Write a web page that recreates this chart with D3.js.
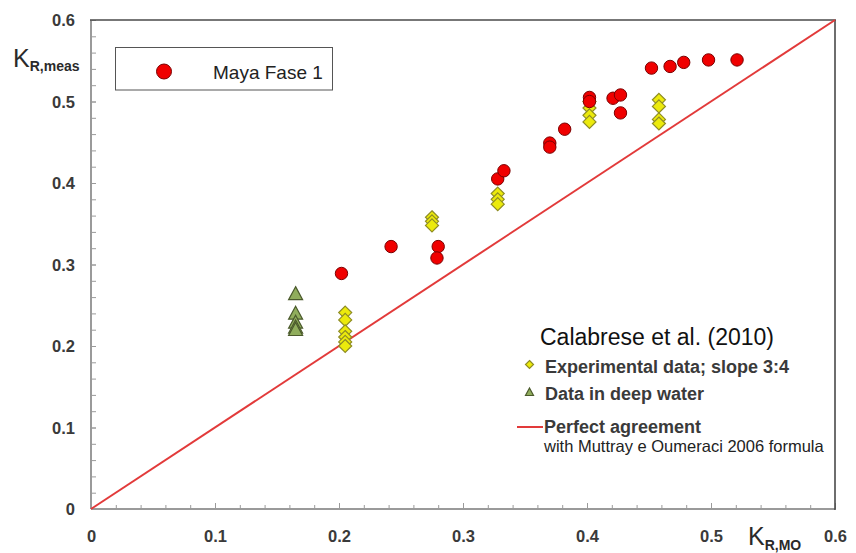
<!DOCTYPE html>
<html>
<head>
<meta charset="utf-8">
<script src="https://cdn.jsdelivr.net/npm/d3@7"></script>
<style>
  html, body { margin: 0; padding: 0; background: #fff; }
  svg { display: block; }
  text { font-family: "Liberation Sans", Arial, sans-serif; }
</style>
</head>
<body>
<svg id="chart" width="856" height="553"></svg>
<script>
// ---- data ----
const mayaX = [0.202, 0.242, 0.280, 0.279, 0.328, 0.333, 0.370, 0.370, 0.382, 0.402, 0.402, 0.421, 0.427, 0.427, 0.452, 0.467, 0.478, 0.498, 0.521];
const mayaY = [0.289, 0.322, 0.322, 0.308, 0.405, 0.415, 0.449, 0.444, 0.466, 0.505, 0.500, 0.504, 0.508, 0.486, 0.541, 0.543, 0.548, 0.551, 0.551];

const expX = [0.205, 0.205, 0.205, 0.205, 0.205, 0.205, 0.275, 0.275, 0.275, 0.328, 0.328, 0.328, 0.402, 0.402, 0.402, 0.402, 0.458, 0.458, 0.458, 0.458];
const expY = [0.241, 0.232, 0.218, 0.211, 0.205, 0.200, 0.358, 0.353, 0.348, 0.387, 0.380, 0.374, 0.500, 0.492, 0.483, 0.475, 0.502, 0.494, 0.478, 0.473];

const deepX = [0.165, 0.165, 0.165, 0.165, 0.165];
const deepY = [0.263, 0.239, 0.228, 0.222, 0.219];

const lineX = [0, 0.6];
const lineY = [0, 0.6];

const majorTicks = [0, 0.1, 0.2, 0.3, 0.4, 0.5, 0.6];
const tickLabels = ["0", "0.1", "0.2", "0.3", "0.4", "0.5", "0.6"];
const minorTicks = [0,0.02,0.04,0.06,0.08,0.1,0.12,0.14,0.16,0.18,0.2,0.22,0.24,0.26,0.28,0.3,0.32,0.34,0.36,0.38,0.4,0.42,0.44,0.46,0.48,0.5,0.52,0.54,0.56,0.58,0.6];

const legendMaya = "Maya Fase 1";
const legendTitle = "Calabrese et al. (2010)";
const legendExp = "Experimental data; slope 3:4";
const legendDeep = "Data in deep water";
const legendLine1 = "Perfect agreement";
const legendLine2 = "with Muttray e Oumeraci 2006 formula";

// ---- chart ----
const svg = d3.select("#chart");
const x = d3.scaleLinear().domain([0, 0.6]).range([91, 835]);
const y = d3.scaleLinear().domain([0, 0.6]).range([509, 20]);

const axisGray = "#9a9a9a";
const labelColor = "#3a3a3a";

const gxMinor = svg.append("g").attr("transform", `translate(0,${y(0)})`)
  .call(d3.axisBottom(x).tickValues(minorTicks).tickSize(-4).tickFormat(""));
const gxMajor = svg.append("g").attr("transform", `translate(0,${y(0)})`)
  .call(d3.axisBottom(x).tickValues(majorTicks).tickSize(-6).tickPadding(22)
    .tickFormat((d, i) => tickLabels[i]));
const gyMinor = svg.append("g").attr("transform", `translate(${x(0)},0)`)
  .call(d3.axisLeft(y).tickValues(minorTicks).tickSize(-5).tickFormat(""));
const gyMajor = svg.append("g").attr("transform", `translate(${x(0)},0)`)
  .call(d3.axisLeft(y).tickValues(majorTicks).tickSize(-5).tickPadding(16)
    .tickFormat((d, i) => tickLabels[i]));

[gxMinor, gxMajor, gyMinor, gyMajor].forEach(g => {
  g.selectAll(".domain").remove();
  g.selectAll(".tick line").attr("stroke", axisGray).attr("stroke-width", 1);
  g.selectAll("text")
    .attr("fill", labelColor)
    .style("font-family", "'Liberation Sans', Arial, sans-serif")
    .style("font-size", "16.5px")
    .style("font-weight", "bold");
});
gxMajor.selectAll("text").attr("dy", "0.32em").attr("y", 28);
gyMajor.selectAll("text").attr("dy", "0.35em");

// axis lines (left/bottom gray), frame (top/right dark)
svg.append("line").attr("x1", x(0)).attr("x2", x(0.6)).attr("y1", y(0)).attr("y2", y(0))
  .attr("stroke", axisGray).attr("stroke-width", 2);
svg.append("line").attr("x1", x(0)).attr("x2", x(0)).attr("y1", y(0)).attr("y2", y(0.6))
  .attr("stroke", axisGray).attr("stroke-width", 2);
svg.append("line").attr("x1", x(0) - 1).attr("x2", x(0.6) + 1).attr("y1", y(0.6)).attr("y2", y(0.6))
  .attr("stroke", "#4a4a4a").attr("stroke-width", 1.6);
svg.append("line").attr("x1", x(0.6)).attr("x2", x(0.6)).attr("y1", y(0.6)).attr("y2", y(0) + 1)
  .attr("stroke", "#4a4a4a").attr("stroke-width", 1.6);

// perfect agreement line
svg.append("line")
  .attr("x1", x(lineX[0])).attr("y1", y(lineY[0]))
  .attr("x2", x(lineX[1])).attr("y2", y(lineY[1]))
  .attr("stroke", "#e23a3a").attr("stroke-width", 2);

const diamond = "M0,-6.5L6.5,0L0,6.5L-6.5,0Z";
const triangle = "M0,-8L7,5L-7,5Z";

svg.append("g").selectAll("path").data(deepX.map((d, i) => [d, deepY[i]])).join("path")
  .attr("d", triangle)
  .attr("transform", d => `translate(${x(d[0])},${y(d[1])})`)
  .attr("fill", "#90ad5c").attr("stroke", "#4b5a2c").attr("stroke-width", 1.2);

svg.append("g").selectAll("path").data(expX.map((d, i) => [d, expY[i]])).join("path")
  .attr("d", diamond)
  .attr("transform", d => `translate(${x(d[0])},${y(d[1])})`)
  .attr("fill", "#ecea0c").attr("stroke", "#8e8c24").attr("stroke-width", 1.2);

svg.append("g").selectAll("circle").data(mayaX.map((d, i) => [d, mayaY[i]])).join("circle")
  .attr("cx", d => x(d[0])).attr("cy", d => y(d[1])).attr("r", 6.2)
  .attr("fill", "#f00000").attr("stroke", "#7a0000").attr("stroke-width", 1);

// axis titles
const yt = svg.append("text").attr("x", 13).attr("y", 67).attr("fill", "#2a2a2a");
yt.append("tspan").text("K").style("font-size", "25px");
yt.append("tspan").text("R,meas").attr("dy", 4).style("font-size", "14px").style("font-weight", "bold");

const xt = svg.append("text").attr("x", 748).attr("y", 545).attr("fill", "#2a2a2a");
xt.append("tspan").text("K").style("font-size", "25px");
xt.append("tspan").text("R,MO").attr("dy", 5).style("font-size", "14px").style("font-weight", "bold");

// Maya legend box
svg.append("rect").attr("x", 115.5).attr("y", 47.5).attr("width", 217).attr("height", 42.5)
  .attr("fill", "#fff").attr("stroke", "#555").attr("stroke-width", 1);
svg.append("circle").attr("cx", 164).attr("cy", 71.5).attr("r", 7.5)
  .attr("fill", "#f00000").attr("stroke", "#7a0000").attr("stroke-width", 1);
svg.append("text").attr("x", 213).attr("y", 78.5).text(legendMaya)
  .style("font-size", "19px").attr("fill", "#222");

// Calabrese legend
svg.append("text").attr("x", 540).attr("y", 345).text(legendTitle)
  .style("font-size", "23px").attr("fill", "#111");
svg.append("path").attr("d", "M0,-4L4,0L0,4L-4,0Z").attr("transform", "translate(529.5,364.5)")
  .attr("fill", "#ecea0c").attr("stroke", "#8e8c24").attr("stroke-width", 1.2);
svg.append("text").attr("x", 545).attr("y", 373).text(legendExp)
  .style("font-size", "18px").style("font-weight", "bold").attr("fill", labelColor);
svg.append("path").attr("d", "M0,-4.5L4,3L-4,3Z").attr("transform", "translate(529.5,392.5)")
  .attr("fill", "#90ad5c").attr("stroke", "#4b5a2c").attr("stroke-width", 1.2);
svg.append("text").attr("x", 545).attr("y", 400).text(legendDeep)
  .style("font-size", "18px").style("font-weight", "bold").attr("fill", labelColor);
svg.append("line").attr("x1", 517).attr("x2", 543).attr("y1", 427).attr("y2", 427)
  .attr("stroke", "#e23a3a").attr("stroke-width", 2);
svg.append("text").attr("x", 544).attr("y", 433).text(legendLine1)
  .style("font-size", "18px").style("font-weight", "bold").attr("fill", labelColor);
svg.append("text").attr("x", 544).attr("y", 452).text(legendLine2)
  .style("font-size", "16.5px").attr("fill", "#222");
</script>
</body>
</html>
